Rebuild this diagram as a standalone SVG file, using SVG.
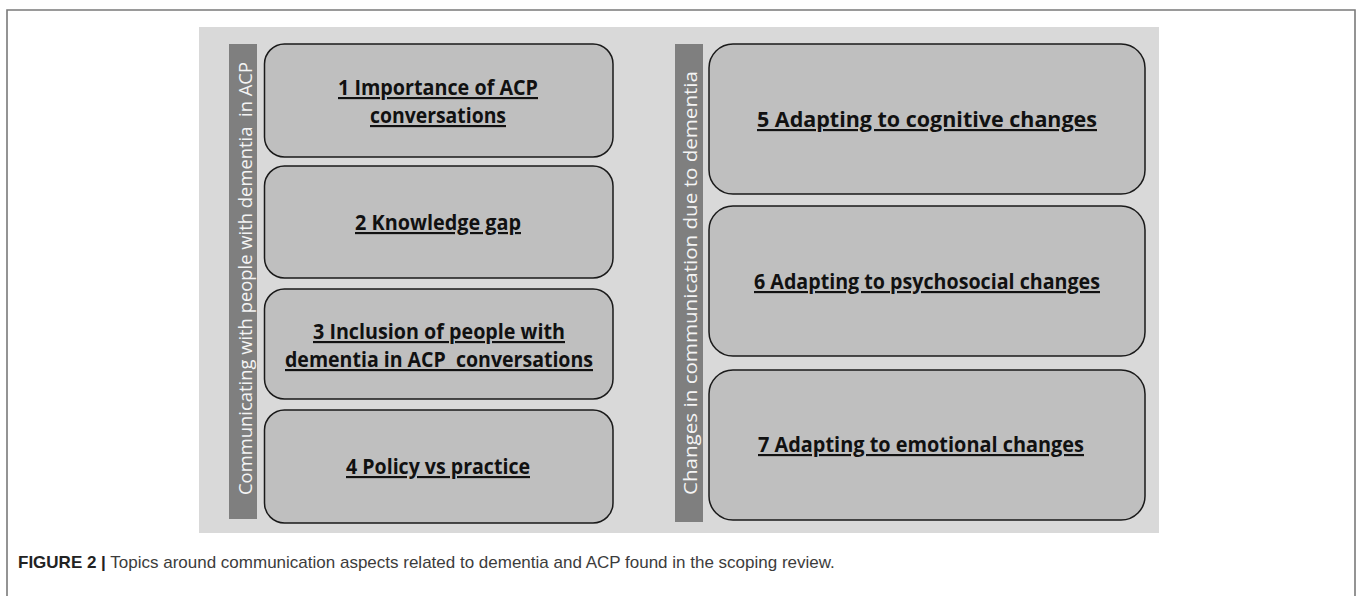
<svg xmlns="http://www.w3.org/2000/svg" width="1358" height="596" viewBox="0 0 1358 596">
<style>
.frame{fill:none;stroke:#7a7a7a;stroke-width:1.6}
.panel{fill:#d9d9d9}
.bar{fill:#7f7f7f}
.vlabel{font-family:"Open Sans","Liberation Sans",sans-serif;font-size:19px;fill:#f4f4f4}
.box{fill:#bfbfbf;stroke:#1a1a1a;stroke-width:1.5}
.lbl{font-family:"Open Sans","Liberation Sans",sans-serif;font-weight:bold;font-size:21.5px;fill:#111;text-decoration:underline;text-anchor:middle}
.cap{font-family:"Liberation Sans",Arial,sans-serif;font-size:17px;fill:#3c3c3c}
.capb{font-weight:bold;fill:#222}
</style>
<path class="frame" d="M7,596 V10 H1355 V596"/>
<rect class="panel" x="199" y="27" width="960" height="506"/>
<g id="group-left">
  <rect class="bar" x="229" y="44" width="28" height="475"/>
  <text class="vlabel" xml:space="preserve" transform="translate(252,495) rotate(-90)" textLength="433" lengthAdjust="spacingAndGlyphs">Communicating with people with dementia  in ACP</text>
</g>
<g id="group-right">
  <rect class="bar" x="675" y="44" width="28" height="478"/>
  <text class="vlabel" transform="translate(697,495) rotate(-90)" textLength="424" lengthAdjust="spacingAndGlyphs">Changes in communication due to dementia</text>
</g>
<g id="node1">
  <rect class="box" x="264.5" y="44" width="348.5" height="113" rx="20"/>
  <text class="lbl" x="438" y="95" textLength="200" lengthAdjust="spacingAndGlyphs">1 Importance of ACP</text>
  <text class="lbl" x="438" y="123" textLength="136" lengthAdjust="spacingAndGlyphs">conversations</text>
</g>
<g id="node2">
  <rect class="box" x="264.5" y="166" width="348.5" height="112" rx="20"/>
  <text class="lbl" x="438" y="230" textLength="166" lengthAdjust="spacingAndGlyphs">2 Knowledge gap</text>
</g>
<g id="node3">
  <rect class="box" x="264.5" y="289" width="348.5" height="110" rx="20"/>
  <text class="lbl" x="439" y="339" textLength="252" lengthAdjust="spacingAndGlyphs">3 Inclusion of people with</text>
  <text class="lbl" xml:space="preserve" x="439" y="367" textLength="308" lengthAdjust="spacingAndGlyphs">dementia in ACP  conversations</text>
</g>
<g id="node4">
  <rect class="box" x="264.5" y="410" width="348.5" height="113" rx="20"/>
  <text class="lbl" x="438" y="474" textLength="184" lengthAdjust="spacingAndGlyphs">4 Policy vs practice</text>
</g>
<g id="node5">
  <rect class="box" x="709" y="44" width="436" height="150" rx="24"/>
  <text class="lbl" x="927" y="127" textLength="340" lengthAdjust="spacingAndGlyphs">5 Adapting to cognitive changes</text>
</g>
<g id="node6">
  <rect class="box" x="709" y="206" width="436" height="150" rx="24"/>
  <text class="lbl" x="927" y="289" textLength="346" lengthAdjust="spacingAndGlyphs">6 Adapting to psychosocial changes</text>
</g>
<g id="node7">
  <rect class="box" x="709" y="370" width="436" height="150" rx="24"/>
  <text class="lbl" x="921" y="452" textLength="326" lengthAdjust="spacingAndGlyphs">7 Adapting to emotional changes</text>
</g>
<g id="connectors"></g>
<text class="cap" x="18" y="568"><tspan class="capb">FIGURE 2 |</tspan> Topics around communication aspects related to dementia and ACP found in the scoping review.</text>
</svg>
